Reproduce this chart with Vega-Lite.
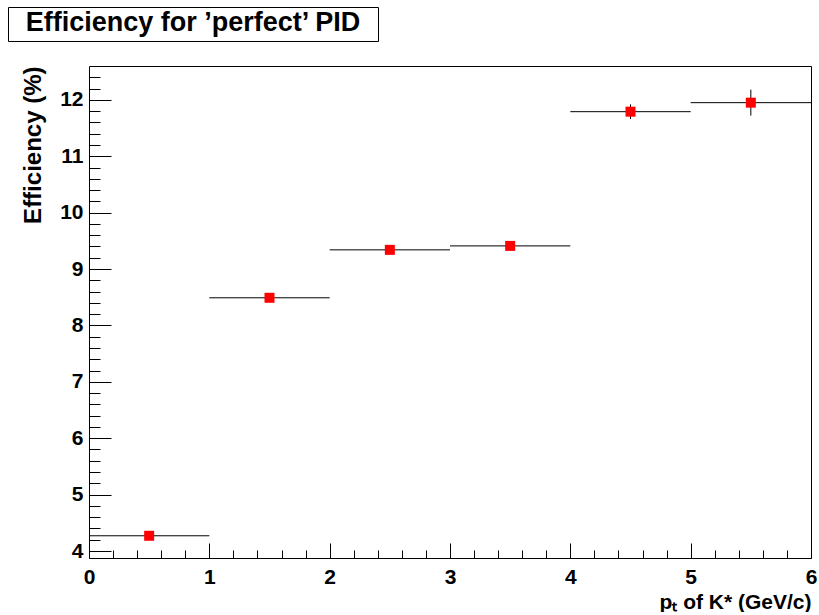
{
  "$schema": "https://vega.github.io/schema/vega-lite/v6.json",
  "padding": {"left": 7, "top": 6, "right": 0, "bottom": 0},
  "background": "white",
  "width": 722,
  "height": 492,
  "data": {"values": [
    {"x": 0.5, "xlo": 0, "xhi": 1, "y": 4.27, "ylo": 4.23, "yhi": 4.31},
    {"x": 1.5, "xlo": 1, "xhi": 2, "y": 8.49, "ylo": 8.43, "yhi": 8.55},
    {"x": 2.5, "xlo": 2, "xhi": 3, "y": 9.34, "ylo": 9.27, "yhi": 9.41},
    {"x": 3.5, "xlo": 3, "xhi": 4, "y": 9.41, "ylo": 9.34, "yhi": 9.48},
    {"x": 4.5, "xlo": 4, "xhi": 5, "y": 11.79, "ylo": 11.66, "yhi": 11.92},
    {"x": 5.5, "xlo": 5, "xhi": 6, "y": 11.95, "ylo": 11.72, "yhi": 12.18}
  ]},
  "layer": [
    {
      "mark": {"type": "rule", "color": "black", "strokeWidth": 1},
      "encoding": {
        "x": {"field": "xlo", "type": "quantitative", "title": "pₜ of K* (GeV/c)", "scale": {"domain": [0, 6], "nice": false, "zero": false},
          "axis": {"tickCount": 200, "values": [0,0.2,0.4,0.6,0.8,1,1.2,1.4,1.6,1.8,2,2.2,2.4,2.6,2.8,3,3.2,3.4,3.6,3.8,4,4.2,4.4,4.6,4.8,5,5.2,5.4,5.6,5.8,6],
            "labelExpr": "abs(datum.value - round(datum.value)) < 0.001 ? format(datum.value, 'd') : ''",
            "gridDash": {"condition": {"test": "abs(datum.value - round(datum.value)) < 0.001", "value": [0, 477, 15, 2000]}, "value": [0, 484, 8, 2000]}}},
        "x2": {"field": "xhi"},
        "y": {"field": "y", "type": "quantitative", "title": "Efficiency (%)", "scale": {"domain": [3.876, 12.6], "nice": false, "zero": false},
          "axis": {"tickCount": 200, "values": [4,4.2,4.4,4.6,4.8,5,5.2,5.4,5.6,5.8,6,6.2,6.4,6.6,6.8,7,7.2,7.4,7.6,7.8,8,8.2,8.4,8.6,8.8,9,9.2,9.4,9.6,9.8,10,10.2,10.4,10.6,10.8,11,11.2,11.4,11.6,11.8,12,12.2,12.4],
            "labelExpr": "abs(datum.value - round(datum.value)) < 0.001 ? format(datum.value, 'd') : ''",
            "gridDash": {"condition": {"test": "abs(datum.value - round(datum.value)) < 0.001", "value": [22, 3000]}, "value": [11, 3000]}}}
      }
    },
    {
      "mark": {"type": "rule", "color": "black", "strokeWidth": 1},
      "encoding": {
        "x": {"field": "x", "type": "quantitative", "title": "pₜ of K* (GeV/c)"},
        "y": {"field": "ylo", "type": "quantitative", "title": "Efficiency (%)"},
        "y2": {"field": "yhi"}
      }
    },
    {
      "mark": {"type": "point", "shape": "square", "filled": true, "opacity": 1, "size": 100},
      "encoding": {
        "x": {"field": "x", "type": "quantitative", "title": "pₜ of K* (GeV/c)"},
        "y": {"field": "y", "type": "quantitative", "title": "Efficiency (%)"},
        "color": {"datum": "perfect PID", "scale": {"range": ["#ff0000"]},
          "legend": {
            "title": "Efficiency for ’perfect’ PID",
            "orient": "none", "legendX": -81, "legendY": -59,
            "titleOrient": "top", "titleAnchor": "middle", "titleAlign": "center",
            "titleFont": "Liberation Sans", "titleFontWeight": "bold", "titleFontSize": 27, "titleColor": "black",
            "titlePadding": 0, "titleBaseline": "top", "titleLineHeight": 27, "titleLimit": 1000,
            "labelExpr": "''", "labelFontSize": 1, "labelOffset": 363,
            "symbolSize": 1, "symbolOpacity": 0, "symbolStrokeWidth": 0,
            "padding": 3, "strokeColor": "black", "fillColor": "white"
          }}
      }
    }
  ],
  "config": {
    "view": {"stroke": "black", "strokeWidth": 1},
    "axis": {
      "domain": false,
      "ticks": false,
      "tickSize": 0,
      "grid": true,
      "gridColor": "black",
      "gridWidth": 1,
      "gridOpacity": 1,
      "labelFont": "Liberation Sans",
      "labelFontWeight": "bold",
      "labelFontSize": 21,
      "labelColor": "black",
      "labelOverlap": false,
      "labelFlush": false,
      "titleFont": "Liberation Sans",
      "titleFontWeight": "bold",
      "titleColor": "black"
    },
    "axisX": {"labelPadding": 8, "titleFontSize": 21, "titleAnchor": "end", "titlePadding": 4},
    "axisY": {"labelPadding": 6, "titleFontSize": 24, "titlePadding": 14, "titleAnchor": "end"}
  }
}
